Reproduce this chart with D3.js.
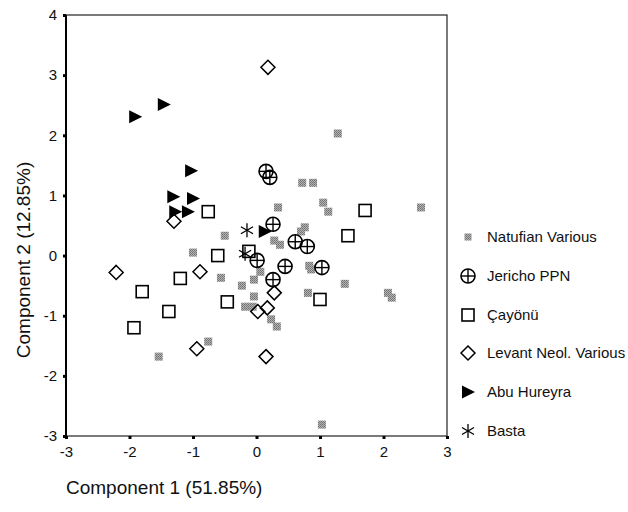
<!DOCTYPE html>
<html><head><meta charset="utf-8">
<script src="https://cdn.jsdelivr.net/npm/d3@7"></script>
<style>body{margin:0;background:#fff}svg{display:block}text{font-family:Arial,"Liberation Sans",sans-serif}</style>
</head><body>
<script>
const natufianX=[1.28,0.72,0.89,0.34,1.05,1.13,2.59,0.76,0.70,0.28,0.37,-0.50,-1.00,0.06,-0.56,-0.23,-0.04,-0.04,-0.18,-0.06,0.23,0.32,-0.76,-1.54,0.83,0.86,1.39,0.81,2.07,2.13,1.03];
const natufianY=[2.03,1.21,1.21,0.80,0.88,0.73,0.80,0.47,0.40,0.25,0.18,0.33,0.05,-0.27,-0.37,-0.50,-0.40,-0.68,-0.85,-0.85,-1.06,-1.18,-1.43,-1.68,-0.17,-0.23,-0.47,-0.62,-0.62,-0.70,-2.81];
const jerichoX=[0.15,0.21,0.26,0.61,0.80,0.01,0.45,1.03,0.26];
const jerichoY=[1.40,1.30,0.52,0.23,0.15,-0.08,-0.18,-0.20,-0.40];
const cayonuX=[-0.76,-0.12,-0.61,-1.20,-1.80,-1.38,-0.46,-1.93,1.71,1.44,1.00];
const cayonuY=[0.73,0.07,0.00,-0.38,-0.60,-0.93,-0.77,-1.20,0.75,0.33,-0.73];
const levantX=[0.18,-1.30,-2.21,-0.89,-0.94,0.28,0.17,0.02,0.15];
const levantY=[3.13,0.57,-0.28,-0.27,-1.55,-0.62,-0.87,-0.93,-1.68];
const abuX=[-1.91,-1.46,-1.03,-1.31,-1.00,-1.28,-1.08,0.13];
const abuY=[2.31,2.51,1.41,0.98,0.95,0.73,0.73,0.40];
const bastaX=[-0.15,-0.18];
const bastaY=[0.42,0.03];
const seriesNames=["Natufian Various","Jericho PPN","Çayönü","Levant Neol. Various","Abu Hureyra","Basta"];
const xTicks=[-3,-2,-1,0,1,2,3];
const yTicks=[-3,-2,-1,0,1,2,3,4];

const W=628,H=512;
const svg=d3.select("body").append("svg").attr("width",W).attr("height",H);
const defs=svg.append("defs");
const pat=defs.append("pattern").attr("id","tex").attr("width",2).attr("height",2).attr("patternUnits","userSpaceOnUse");
pat.append("rect").attr("width",2).attr("height",2).attr("fill","#b4b4b4");
pat.append("rect").attr("width",1).attr("height",1).attr("fill","#6e6e6e");
pat.append("rect").attr("x",1).attr("y",1).attr("width",1).attr("height",1).attr("fill","#7e7e7e");

const x=d3.scaleLinear().domain([-3,3]).range([66,447]);
const y=d3.scaleLinear().domain([-3,4]).range([436,15]);

// frame
svg.append("rect").attr("x",66).attr("y",15).attr("width",381).attr("height",421)
  .attr("fill","none").attr("stroke","#222").attr("stroke-width",1.2);
svg.append("line").attr("x1",66).attr("x2",66).attr("y1",15).attr("y2",436).attr("stroke","#000").attr("stroke-width",2);

// axes
const yAxis=d3.axisLeft(y).tickValues(yTicks).tickSize(3).tickPadding(6).tickFormat(d3.format("d"));
const gy=svg.append("g").attr("transform","translate(66,0)").call(yAxis);
const xAxis=d3.axisBottom(x).tickValues(xTicks).tickSize(3).tickPadding(7).tickFormat(d3.format("d"));
const gx=svg.append("g").attr("transform","translate(0,436)").call(xAxis);
[gy,gx].forEach(g=>{
  g.select(".domain").remove();
  g.selectAll(".tick line").attr("stroke","#000").attr("stroke-width",3);
  g.selectAll(".tick text").attr("font-size",15).attr("fill","#111").attr("font-family","Arial, 'Liberation Sans', sans-serif");
});
gy.selectAll(".tick text").text(d=>d<0?"-"+Math.abs(d):d);
gx.selectAll(".tick text").text(d=>d<0?"-"+Math.abs(d):d);

// titles
svg.append("text").attr("x",66).attr("y",494).attr("font-size",19).attr("fill","#111").text("Component 1 (51.85%)");
svg.append("text").attr("transform","translate(30,260) rotate(-90)").attr("text-anchor","middle")
  .attr("font-size",19).attr("fill","#111").text("Component 2 (12.85%)");

// marker drawers
function natufian(g,cx,cy,s){g.append("rect").attr("x",cx-s/2).attr("y",cy-s/2).attr("width",s).attr("height",s).attr("fill","url(#tex)");}
function jericho(g,cx,cy){
  g.append("circle").attr("cx",cx).attr("cy",cy).attr("r",7).attr("fill","none").attr("stroke","#000").attr("stroke-width",1.6);
  g.append("line").attr("x1",cx-7).attr("x2",cx+7).attr("y1",cy).attr("y2",cy).attr("stroke","#000").attr("stroke-width",1.4);
  g.append("line").attr("x1",cx).attr("x2",cx).attr("y1",cy-7).attr("y2",cy+7).attr("stroke","#000").attr("stroke-width",1.4);
}
function square(g,cx,cy){g.append("rect").attr("x",cx-6).attr("y",cy-6).attr("width",12).attr("height",12).attr("fill","none").attr("stroke","#000").attr("stroke-width",1.6);}
function diamond(g,cx,cy){g.append("path").attr("d",`M${cx},${cy-7}L${cx+7},${cy}L${cx},${cy+7}L${cx-7},${cy}Z`).attr("fill","none").attr("stroke","#000").attr("stroke-width",1.5);}
function tri(g,cx,cy){g.append("path").attr("d",`M${cx-6},${cy-6.5}L${cx+7},${cy}L${cx-6},${cy+6.5}Z`).attr("fill","#000");}
function star(g,cx,cy){
  const r=7;
  [90,30,150].forEach(a=>{const t=a*Math.PI/180;
    g.append("line").attr("x1",cx-r*Math.cos(t)).attr("x2",cx+r*Math.cos(t)).attr("y1",cy-r*Math.sin(t)).attr("y2",cy+r*Math.sin(t)).attr("stroke","#000").attr("stroke-width",1.3);});
}

const pts=svg.append("g");
natufianX.forEach((v,i)=>natufian(pts,x(v),y(natufianY[i]),8));
cayonuX.forEach((v,i)=>square(pts,x(v),y(cayonuY[i])));
levantX.forEach((v,i)=>diamond(pts,x(v),y(levantY[i])));
abuX.forEach((v,i)=>tri(pts,x(v),y(abuY[i])));
bastaX.forEach((v,i)=>star(pts,x(v),y(bastaY[i])));
jerichoX.forEach((v,i)=>jericho(pts,x(v),y(jerichoY[i])));

// legend
const legY=[237,276,315,353,392,431];
const drawers=[(g,cx,cy)=>natufian(g,cx,cy,7),jericho,square,diamond,tri,star];
const lg=svg.append("g");
seriesNames.forEach((n,i)=>{
  drawers[i](lg,468,legY[i]);
  lg.append("text").attr("x",487).attr("y",legY[i]+5).attr("font-size",15).attr("fill","#111").text(n);
});
</script>
</body></html>
